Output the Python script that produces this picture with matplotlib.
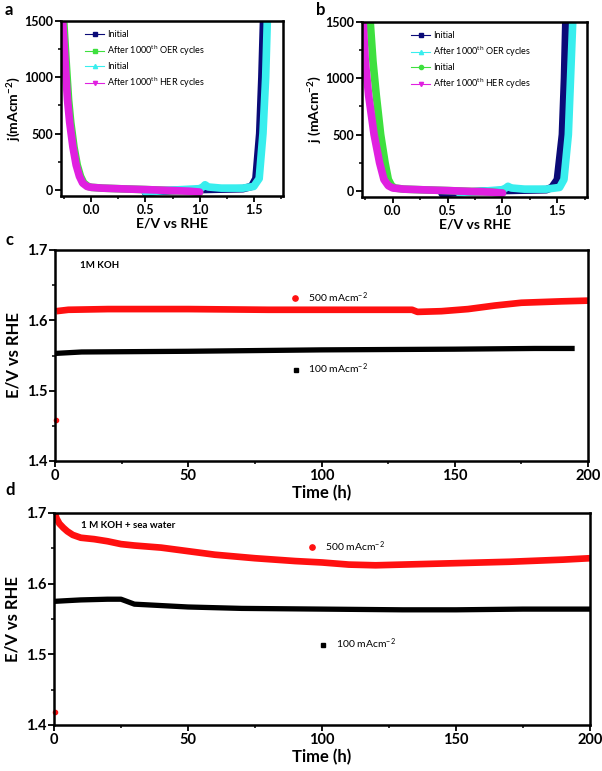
import matplotlib
matplotlib.use("Agg")
import matplotlib.pyplot as plt
from matplotlib.lines import Line2D
from matplotlib.ticker import MultipleLocator, FormatStrFormatter

plt.rcParams['font.family'] = ['Lato', 'DejaVu Sans']
plt.rcParams['mathtext.fontset'] = 'custom'
plt.rcParams['mathtext.rm'] = 'Lato'
plt.rcParams['mathtext.bf'] = 'Lato:bold'
plt.rcParams['mathtext.default'] = 'regular'

NAVY = '#0b0b78'
GREEN = '#3ee03e'
CYAN = '#38eeee'
MAGENTA = '#e020e0'
RED = '#ff1010'

# ---------------- panel a data (E / V vs RHE, j / mA cm-2) ----------------
a_navy_E = [0.50, 0.60, 0.80, 1.00, 1.20, 1.40, 1.48, 1.52, 1.555, 1.575, 1.59]
a_navy_j = [-25, -15, -5, 2, 6, 10, 30, 100, 500, 1000, 1500]
a_green_E = [-0.255, -0.23, -0.21, -0.19, -0.16, -0.13, -0.10, -0.07, -0.03, 0.00, 0.10, 0.30, 0.50, 0.70, 0.90, 1.00]
a_green_j = [1500, 1100, 800, 600, 380, 220, 120, 60, 30, 22, 15, 8, 2, -5, -12, -20]
a_cyan_E = [0.50, 0.70, 0.90, 1.00, 1.03, 1.05, 1.08, 1.20, 1.40, 1.50, 1.55, 1.585, 1.61, 1.625]
a_cyan_j = [-20, -5, 5, 10, 25, 45, 25, 15, 15, 30, 100, 500, 1000, 1500]
a_mag_E = [-0.265, -0.24, -0.22, -0.20, -0.17, -0.14, -0.11, -0.08, -0.04, 0.00, 0.10, 0.30, 0.50, 0.70, 0.90, 1.00]
a_mag_j = [1500, 1100, 800, 600, 380, 220, 120, 60, 30, 22, 15, 8, 2, -5, -12, -20]
a_labels = ['Initial', 'After 1000$^{th}$ OER cycles', 'Initial', 'After 1000$^{th}$ HER cycles']

# ---------------- panel b data ----------------
b_navy_E = [0.45, 0.60, 0.80, 1.00, 1.20, 1.40, 1.45, 1.50, 1.546, 1.565, 1.577]
b_navy_j = [-25, -15, -5, 2, 6, 10, 30, 100, 500, 1000, 1500]
b_cyan_E = [0.60, 0.80, 1.00, 1.03, 1.05, 1.08, 1.20, 1.40, 1.52, 1.56, 1.60, 1.62, 1.64]
b_cyan_j = [-15, -5, 10, 25, 40, 25, 15, 15, 30, 100, 500, 1000, 1500]
b_green_E = [-0.205, -0.18, -0.15, -0.11, -0.07, -0.04, -0.01, 0.02, 0.10, 0.30, 0.50, 0.70, 0.90, 1.00]
b_green_j = [1500, 1150, 850, 500, 250, 100, 45, 25, 15, 8, 2, -5, -12, -20]
b_mag_E = [-0.27, -0.25, -0.22, -0.17, -0.12, -0.08, -0.04, 0.00, 0.10, 0.30, 0.50, 0.70, 0.90, 1.00]
b_mag_j = [1500, 1150, 850, 500, 250, 100, 45, 25, 15, 8, 2, -5, -12, -20]
b_labels = ['Initial', 'After 1000$^{th}$ OER cycles', 'Initial', 'After 1000$^{th}$ HER cycles']

# ---------------- panel c data (time / h, E / V vs RHE) ----------------
c_t500 = [0.5, 5, 20, 50, 80, 110, 134, 136, 145, 155, 165, 175, 190, 200]
c_e500 = [1.613, 1.615, 1.616, 1.616, 1.615, 1.615, 1.615, 1.612, 1.613, 1.616, 1.621, 1.625, 1.627, 1.628]
c_t500_start = [0.3]
c_e500_start = [1.459]
c_t100 = [0.3, 10, 50, 100, 150, 180, 195]
c_e100 = [1.553, 1.555, 1.556, 1.558, 1.559, 1.560, 1.560]

# ---------------- panel d data ----------------
d_t500 = [0.3, 1, 2, 3.5, 5, 7, 10, 15, 20, 25, 30, 40, 50, 60, 75, 90, 100, 110, 120, 130, 150, 170, 190, 200]
d_e500 = [1.700, 1.692, 1.685, 1.679, 1.674, 1.669, 1.665, 1.663, 1.660, 1.656, 1.654, 1.651, 1.646, 1.641, 1.636, 1.632, 1.630, 1.627, 1.626, 1.627, 1.629, 1.631, 1.634, 1.636]
d_t500_start = [0.3]
d_e500_start = [1.419]
d_t100 = [0.3, 5, 10, 20, 25, 30, 40, 50, 70, 100, 130, 150, 175, 200]
d_e100 = [1.575, 1.576, 1.577, 1.578, 1.578, 1.571, 1.569, 1.567, 1.565, 1.564, 1.563, 1.563, 1.564, 1.564]

fig = plt.figure(figsize=(6.02, 7.71), dpi=100)

W, H = 602, 771
def rect(l, t, r, b):
    return [l / W, 1 - b / H, (r - l) / W, (b - t) / H]

def style_axes(ax, labelsize, lw=1.8):
    for s in ax.spines.values():
        s.set_linewidth(lw)
    ax.tick_params(which='major', direction='out', length=4, width=1.3, labelsize=labelsize, pad=1.5)
    ax.tick_params(which='minor', direction='out', length=2.5, width=1.1)
    for lab in ax.get_xticklabels() + ax.get_yticklabels():
        lab.set_fontweight('bold')

def cv_panel(ax, curves, labels, ylabel, leg_anchor):
    handles = []
    for (E, j, col, mk), lab in zip(curves, labels):
        ax.plot(E, j, color=col, lw=5.5, solid_capstyle='round', solid_joinstyle='round')
        handles.append(Line2D([], [], color=col, lw=0.8, marker=mk, markersize=3, label=lab))
    ax.set_xlim(-0.28, 1.77)
    ax.set_ylim(-55, 1500)
    ax.xaxis.set_major_locator(MultipleLocator(0.5))
    ax.xaxis.set_minor_locator(MultipleLocator(0.25))
    ax.yaxis.set_major_locator(MultipleLocator(500))
    ax.yaxis.set_minor_locator(MultipleLocator(250))
    ax.xaxis.set_major_formatter(FormatStrFormatter('%.1f'))
    style_axes(ax, 9)
    ax.set_xlabel('E/V vs RHE', fontsize=10, fontweight='bold', labelpad=1)
    ax.set_ylabel(ylabel, fontsize=10, fontweight='bold', labelpad=1)
    ax.legend(handles=handles, loc='upper left', bbox_to_anchor=leg_anchor,
              frameon=False, fontsize=6.5, handlelength=2.2, handletextpad=0.3,
              labelspacing=0.5, borderaxespad=0)

# panel a
ax_a = fig.add_axes(rect(61, 21, 283, 196))
cv_panel(ax_a,
         [(a_navy_E, a_navy_j, NAVY, 's'), (a_green_E, a_green_j, GREEN, 's'),
          (a_cyan_E, a_cyan_j, CYAN, '^'), (a_mag_E, a_mag_j, MAGENTA, 'v')],
         a_labels, 'j(mAcm$^{\\mathbf{-2}}$)', (0.09, 0.97))

# panel b
ax_b = fig.add_axes(rect(362, 22, 587, 197))
cv_panel(ax_b,
         [(b_navy_E, b_navy_j, NAVY, 's'), (b_cyan_E, b_cyan_j, CYAN, '^'),
          (b_green_E, b_green_j, GREEN, 'o'), (b_mag_E, b_mag_j, MAGENTA, 'v')],
         b_labels, 'j (mAcm$^{\\mathbf{-2}}$)', (0.2, 0.97))

def stab_panel(ax, t500, e500, t500s, e500s, t100, e100, note, pos500, pos100):
    ax.plot(t500, e500, color=RED, lw=4.8, solid_capstyle='butt')
    ax.plot(t500s, e500s, 'o', color=RED, markersize=3, clip_on=False)
    ax.plot(t100, e100, color='black', lw=3.8, solid_capstyle='butt')
    ax.set_xlim(0, 200)
    ax.set_ylim(1.4, 1.7)
    ax.xaxis.set_major_locator(MultipleLocator(50))
    ax.xaxis.set_minor_locator(MultipleLocator(25))
    ax.yaxis.set_major_locator(MultipleLocator(0.1))
    ax.yaxis.set_minor_locator(MultipleLocator(0.05))
    ax.yaxis.set_major_formatter(FormatStrFormatter('%.1f'))
    style_axes(ax, 10.5)
    ax.set_xlabel('Time (h)', fontsize=12, fontweight='bold', labelpad=2)
    ax.set_ylabel('E/V vs RHE', fontsize=12, fontweight='bold', labelpad=4)
    ax.text(note[1], note[2], note[0], transform=ax.transAxes, fontsize=7,
            fontweight='bold', va='center', ha='left')
    h500 = Line2D([], [], color=RED, ls='none', marker='o', markersize=3.8,
                  label='500 mAcm$^{-2}$')
    h100 = Line2D([], [], color='black', ls='none', marker='s', markersize=3.4,
                  label='100 mAcm$^{-2}$')
    l1 = ax.legend(handles=[h500], loc='center left', bbox_to_anchor=pos500, frameon=False,
                   fontsize=7.5, handlelength=1, handletextpad=0.7, borderaxespad=0)
    ax.add_artist(l1)
    ax.legend(handles=[h100], loc='center left', bbox_to_anchor=pos100, frameon=False,
              fontsize=7.5, handlelength=1, handletextpad=0.7, borderaxespad=0)

ax_c = fig.add_axes(rect(55, 250, 588, 461))
stab_panel(ax_c, c_t500, c_e500, c_t500_start, c_e500_start, c_t100, c_e100,
           ('1M KOH', 0.047, 0.925), (0.433, 0.774), (0.434, 0.436))

ax_d = fig.add_axes(rect(54, 513, 590, 725))
stab_panel(ax_d, d_t500, d_e500, d_t500_start, d_e500_start, d_t100, d_e100,
           ('1 M KOH + sea water', 0.05, 0.94), (0.464, 0.84), (0.485, 0.382))

for lab, x, y in [('a', 9, 10), ('b', 321, 10), ('c', 9, 240), ('d', 10, 490)]:
    fig.text(x / W, 1 - y / H, lab, fontsize=12, fontweight='bold', ha='center', va='center')

fig.savefig('out.png', dpi=100)
